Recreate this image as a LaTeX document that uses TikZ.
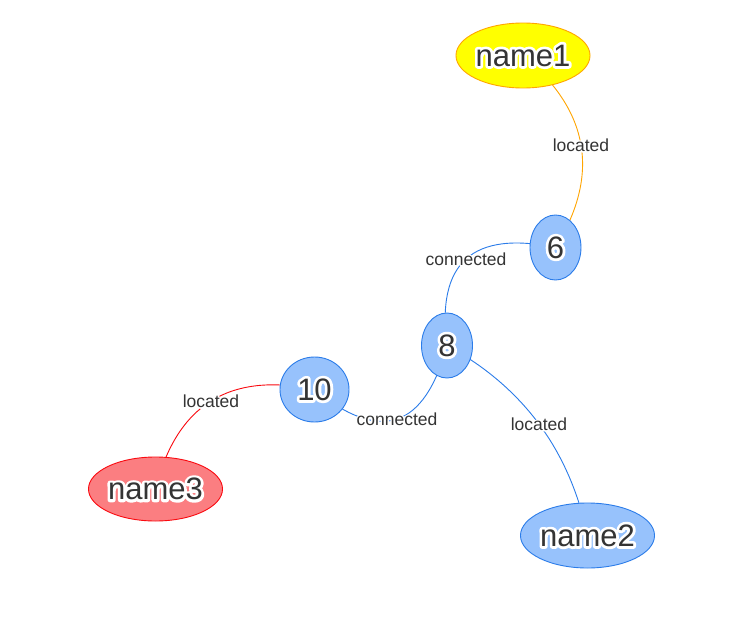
\documentclass[tikz,border=0pt]{standalone}
\usepackage{fontspec}
\setmainfont{Liberation Sans}
\usetikzlibrary{shapes.geometric,calc}
\definecolor{nblue}{HTML}{97C2FC}
\definecolor{bblue}{HTML}{2B7CE9}
\definecolor{nyellow}{HTML}{FFFF00}
\definecolor{borange}{HTML}{FFA500}
\definecolor{nred}{HTML}{FB7E81}
\definecolor{bred}{HTML}{FA0A10}
\definecolor{txt}{HTML}{343434}
% white halo: a copy of the text stroked in white, then the text itself
\newcommand{\halotext}[2]{%
  \rlap{\special{pdf:literal direct 2 Tr #1 w 1 j 1 1 1 RG}\textcolor{white}{#2}\special{pdf:literal direct 0 Tr}}%
  \textcolor{txt}{#2}}
\newcommand{\ntext}[1]{\halotext{5.5}{#1}}
\newcommand{\ltext}[1]{\halotext{3}{#1}}
\pgfdeclarelayer{background}
\pgfsetlayers{background,main}
\begin{document}
\begin{tikzpicture}[x=1pt,y=-1pt,
  vnode/.style={ellipse, inner sep=0pt, line width=0.9pt, text=txt,
    font=\fontsize{31}{31}\selectfont},
  bluenode/.style={vnode, fill=nblue, draw=bblue},
  yellownode/.style={vnode, fill=nyellow, draw=borange},
  rednode/.style={vnode, fill=nred, draw=bred},
  edge/.style={line width=0.9pt},
  elabel/.style={font=\fontsize{17.5}{17.5}\selectfont, text=txt, inner sep=0pt}
]
\useasboundingbox (0,0) rectangle (750,632);

\node[yellownode, minimum width=132pt, minimum height=65pt] (n1) at (523,55.5) {\ntext{name1}};
\node[bluenode, minimum width=51pt, minimum height=65pt] (n6) at (555.5,247.5) {\ntext{6}};
\node[bluenode, minimum width=51pt, minimum height=65pt] (n8) at (447,345.5) {\ntext{8}};
\node[bluenode, minimum width=69pt, minimum height=65pt] (n10) at (314.5,389.5) {\ntext{10}};
\node[rednode, minimum width=133pt, minimum height=64pt] (n3) at (155.5,489) {\ntext{name3}};
\node[bluenode, minimum width=133pt, minimum height=65pt] (n2) at (587.5,535.5) {\ntext{name2}};

% quadratic control points of the curved edges
\coordinate (c16) at (622.75,138.5);
\coordinate (c68) at (430.75,221.5);
\coordinate (c810) at (413.25,470.5);
\coordinate (c82) at (560.75,407.5);
\coordinate (c103) at (187,362.75);

\begin{pgfonlayer}{background}
\fill[white] (0,0) rectangle (750,632);
\draw[edge, draw=borange] (n1.center)
  .. controls ($(n1.center)!2/3!(c16)$) and ($(n6.center)!2/3!(c16)$) .. (n6.center)
  node[elabel, pos=0.5] (l1) {\ltext{located}};
\draw[edge, draw=bblue] (n6.center)
  .. controls ($(n6.center)!2/3!(c68)$) and ($(n8.center)!2/3!(c68)$) .. (n8.center)
  node[elabel, pos=0.5] (l2) {\ltext{connected}};
\draw[edge, draw=bblue] (n8.center)
  .. controls ($(n8.center)!2/3!(c810)$) and ($(n10.center)!2/3!(c810)$) .. (n10.center)
  node[elabel, pos=0.5] (l3) {\ltext{connected}};
\draw[edge, draw=bblue] (n8.center)
  .. controls ($(n8.center)!2/3!(c82)$) and ($(n2.center)!2/3!(c82)$) .. (n2.center)
  node[elabel, pos=0.5] (l4) {\ltext{located}};
\draw[edge, draw=bred] (n10.center)
  .. controls ($(n10.center)!2/3!(c103)$) and ($(n3.center)!2/3!(c103)$) .. (n3.center)
  node[elabel, pos=0.5] (l5) {\ltext{located}};
\end{pgfonlayer}
\end{tikzpicture}
\end{document}
